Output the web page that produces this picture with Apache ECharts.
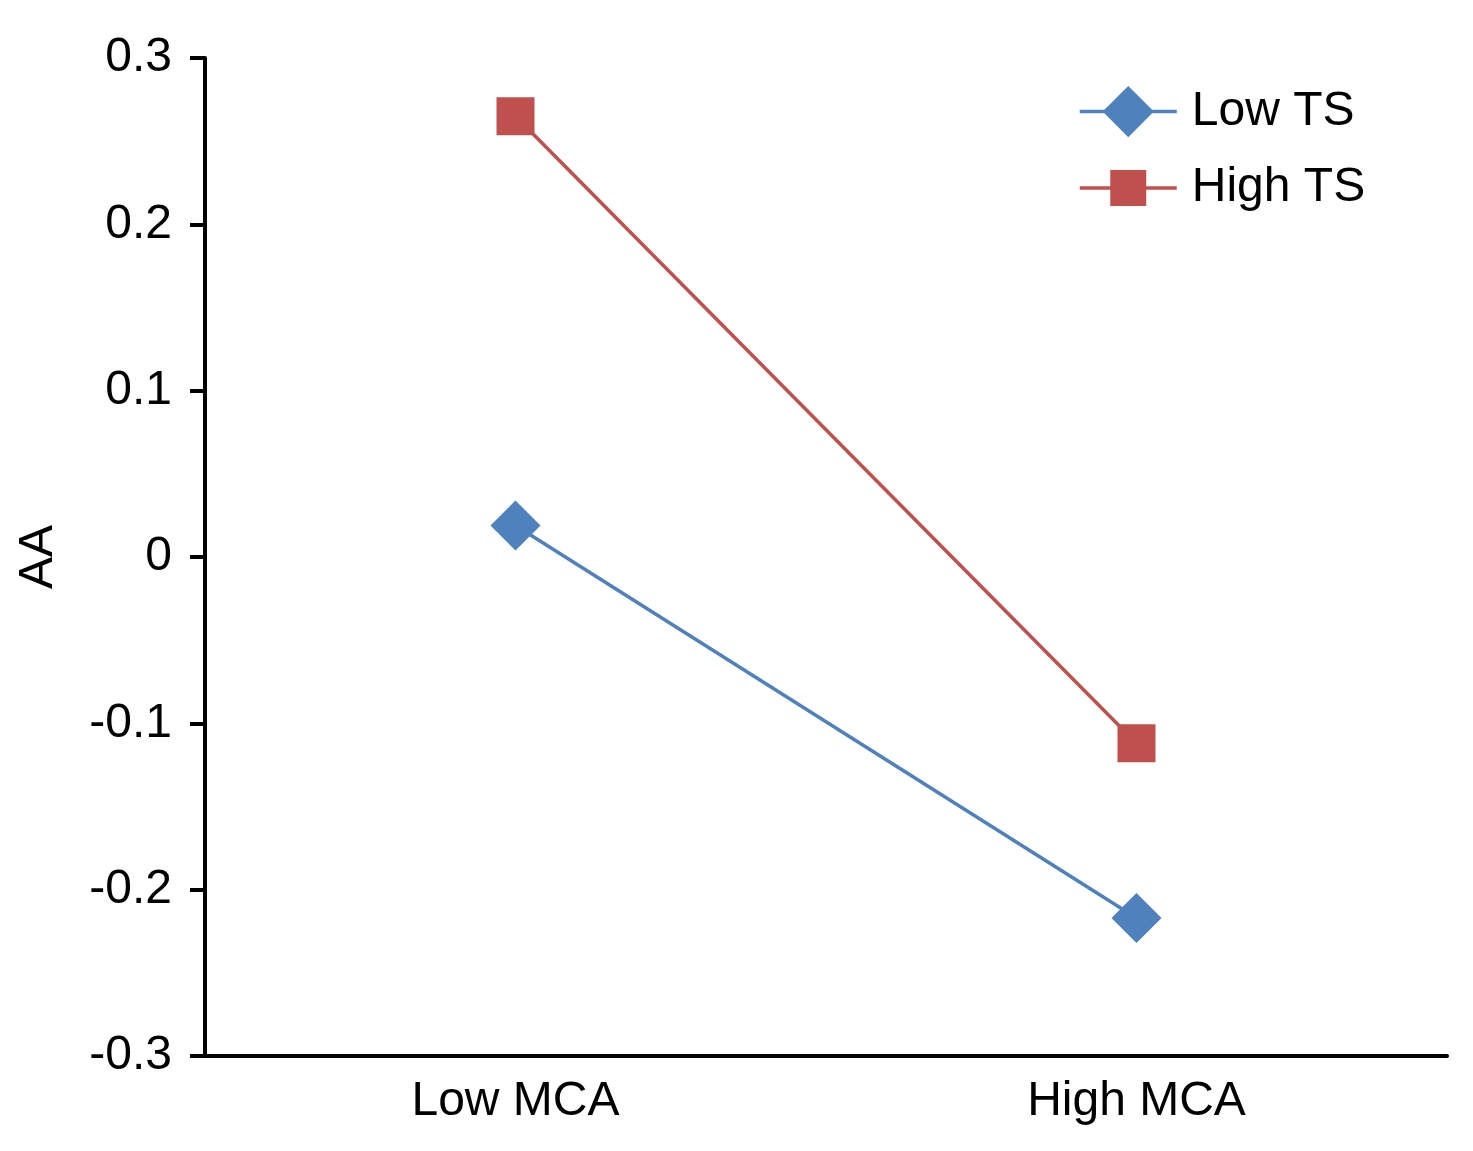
<!DOCTYPE html>
<html>
<head>
<meta charset="utf-8">
<script src="https://cdn.jsdelivr.net/npm/echarts@6/dist/echarts.min.js"></script>
<style>
html,body{margin:0;padding:0;background:#fff;}
#c{width:1473px;height:1151px;}
</style>
</head>
<body>
<div id="c"></div>
<script>
const categories = ['Low MCA', 'High MCA'];
const lowTS = [0.019, -0.217];
const highTS = [0.265, -0.112];
const yTicks = [-0.3, -0.2, -0.1, 0, 0.1, 0.2, 0.3];
const seriesNames = ['Low TS', 'High TS'];

const chart = echarts.init(document.getElementById('c'));
const font = 'Liberation Sans, Arial, sans-serif';
const blue = '#4F81BD', red = '#C0504D';

chart.setOption({
  animation: false,
  backgroundColor: '#fff',
  grid: {left: 205, right: 26, top: 58, bottom: 95, containLabel: false},
  legend: [
    {
      data: [seriesNames[0]], left: 1078, top: 86, padding: 0, itemWidth: 97, itemHeight: 64,
      lineStyle: {width: 3.5},
      textStyle: {fontFamily: font, fontSize: 48, color: '#000', padding: [0,0,0,10]}
    },
    {
      data: [seriesNames[1]], left: 1078, top: 164, padding: 0, itemWidth: 97, itemHeight: 45,
      lineStyle: {width: 3.5},
      textStyle: {fontFamily: font, fontSize: 48, color: '#000', padding: [0,0,0,10]}
    }
  ],
  xAxis: {
    type: 'category', data: categories, boundaryGap: true,
    axisLine: {onZero: false, lineStyle: {color: '#000', width: 4}},
    axisTick: {show: false},
    axisLabel: {fontFamily: font, fontSize: 48, color: '#000', margin: 22}
  },
  yAxis: {
    type: 'value', min: yTicks[0], max: yTicks[yTicks.length-1], interval: 0.1,
    name: 'AA', nameLocation: 'middle', nameGap: 142, nameRotate: 90,
    nameTextStyle: {fontFamily: font, fontSize: 48, color: '#000'},
    splitLine: {show: false},
    axisLine: {show: true, lineStyle: {color: '#000', width: 4}},
    axisTick: {show: true, length: 15, lineStyle: {color: '#000', width: 4}},
    axisLabel: {fontFamily: font, fontSize: 48, color: '#000', margin: 33,
      formatter: v => { const r = Math.round(v*10)/10; return r === 0 ? '0' : String(r); }}
  },
  series: [
    {
      name: seriesNames[0], type: 'line', data: lowTS,
      symbol: 'diamond', symbolSize: 50,
      itemStyle: {color: blue}, lineStyle: {color: blue, width: 3.5}
    },
    {
      name: seriesNames[1], type: 'line', data: highTS,
      symbol: 'rect', symbolSize: 38,
      itemStyle: {color: red}, lineStyle: {color: red, width: 3.5}
    }
  ]
});
</script>
</body>
</html>
